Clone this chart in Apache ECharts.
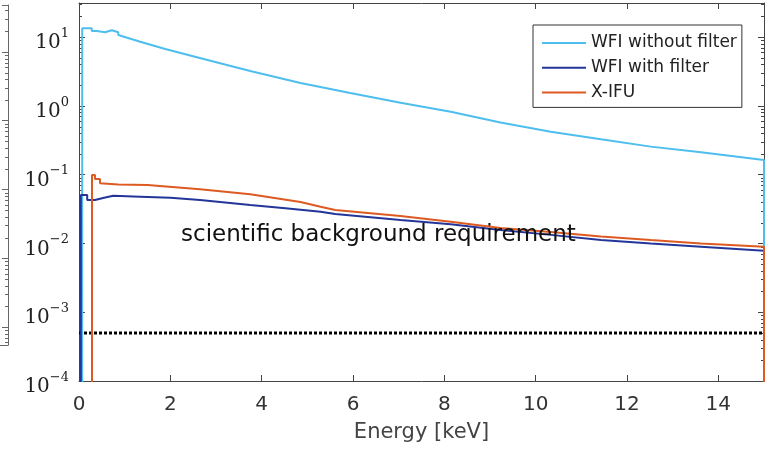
<!DOCTYPE html>
<html><head><meta charset="utf-8">
<script src="https://cdn.jsdelivr.net/npm/echarts@6/dist/echarts.min.js"></script>
<style>html,body{margin:0;padding:0;background:#fff}#c{width:776px;height:451px}</style>
</head><body><div id="c"></div>
<script>
// ---- data ----
const xTickValues = [0, 2, 4, 6, 8, 10, 12, 14];
const yDecadeExponents = [-4, -3, -2, -1, 0, 1];
const minorMantissas = [2, 3, 4, 5, 6, 7, 8, 9];
const legendNames = ['WFI without filter', 'WFI with filter', 'X-IFU'];
const annotationText = 'scientific background requirement';

// 1e-6 marks a drop to below the axis (vertical edges of the stair spectra)
const wfiNoFilterE = [0.07, 0.07, 0.28, 0.28, 0.39, 0.39, 0.57, 0.57, 0.72, 0.72, 0.86, 0.86, 1.34, 1.89, 2.54, 3.09, 3.75, 4.85, 5.94, 7.04, 8.14, 9.23, 10.33, 11.43, 12.52, 13.62, 15.0, 15.0];
const wfiNoFilterV = [1e-6, 13.4, 13.4, 12.2, 12.2, 11.7, 11.7, 12.5, 12.5, 11.7, 11.7, 10.7, 8.55, 6.7, 5.17, 4.15, 3.2, 2.14, 1.53, 1.11, 0.82, 0.57, 0.421, 0.326, 0.255, 0.211, 0.163, 1e-6];

const wfiFilterE = [0.04, 0.04, 0.18, 0.18, 0.35, 0.55, 0.75, 1.34, 2.0, 2.65, 3.75, 4.52, 5.29, 5.61, 7.04, 8.14, 9.23, 10.33, 11.43, 12.52, 13.62, 15.0, 15.0];
const wfiFilterV = [1e-6, 0.0504, 0.0504, 0.0428, 0.0428, 0.046, 0.0493, 0.0477, 0.0461, 0.0428, 0.0361, 0.0324, 0.0289, 0.0267, 0.0219, 0.019, 0.0157, 0.0133, 0.0112, 0.0100, 0.00896, 0.00784, 1e-6];

const xifuE = [0.285, 0.285, 0.35, 0.35, 0.46, 0.46, 0.86, 1.5, 2.65, 3.75, 4.85, 5.29, 5.61, 7.04, 8.14, 9.23, 10.33, 11.43, 12.52, 13.62, 15.0, 15.0];
const xifuV = [1e-6, 0.0986, 0.0986, 0.0863, 0.0863, 0.0748, 0.0718, 0.0706, 0.0611, 0.0518, 0.040, 0.0341, 0.0305, 0.025, 0.0206, 0.01675, 0.01466, 0.0126, 0.0112, 0.0100, 0.00896, 1e-6];

const requirementE = [0, 15];
const requirementV = [5e-4, 5e-4];

// ---- helpers ----
const pairs = (e, v) => e.map((x, i) => [x, v[i]]);
const yMin = 1e-4, yMaxExp = 1.494, yMax = Math.pow(10, yMaxExp);
const sideMin = Math.pow(10, -4.261), sideMax = Math.pow(10, 0.681);
function minorTickValues(lo, hi) {
  const out = [];
  for (let k = -6; k <= 2; k++) {
    minorMantissas.forEach(m => {
      const v = m * Math.pow(10, k);
      if (v > lo && v < hi) out.push(v);
    });
  }
  return out;
}
const axisColor = '#444';
const supMinus = e => (e < 0 ? '\u2212' + (-e) : String(e));

const chart = echarts.init(document.getElementById('c'), null, {renderer: 'canvas'});
const tickCommon = {show: true, inside: true, length: 6, lineStyle: {color: axisColor, width: 1}};

function tickRenderer(xLeft, xRight, len, color, both) {
  return function (params, api) {
    const v = api.value(1);
    const l = api.coord([xLeft, v]);
    const r = api.coord([xRight, v]);
    const y = Math.round(l[1]) + 0.5;
    const children = [];
    if (both) children.push({type: 'line', shape: {x1: l[0], y1: y, x2: l[0] + len, y2: y}, style: {stroke: color, lineWidth: 1}});
    children.push({type: 'line', shape: {x1: r[0] - len, y1: y, x2: r[0], y2: y}, style: {stroke: color, lineWidth: 1}});
    return {type: 'group', children: children};
  };
}

const option = {
  animation: false,
  backgroundColor: '#fff',
  grid: [
    {left: 79, right: 12, top: 3, bottom: 70, show: false},
    {left: 0, top: 5, width: 8, height: 340, show: false}
  ],
  xAxis: [
    {
      gridIndex: 0, type: 'value', min: 0, max: 15, interval: 2, position: 'bottom',
      axisLine: {show: true, onZero: false, lineStyle: {color: axisColor, width: 1}},
      axisTick: tickCommon,
      axisLabel: {margin: 14, color: '#333', fontFamily: 'DejaVu Sans', fontSize: 20,
        formatter: v => (xTickValues.indexOf(v) >= 0 ? String(v) : '')},
      splitLine: {show: false},
      name: 'Energy [keV]', nameLocation: 'middle', nameGap: 41,
      nameTextStyle: {color: '#444', fontFamily: 'DejaVu Sans', fontSize: 21}
    },
    {
      gridIndex: 0, type: 'value', min: 0, max: 15, interval: 2, position: 'top',
      axisLine: {show: true, onZero: false, lineStyle: {color: axisColor, width: 1}},
      axisTick: tickCommon, axisLabel: {show: false}, splitLine: {show: false}
    },
    {
      gridIndex: 1, type: 'value', min: 0, max: 1,
      axisLine: {show: true, onZero: false, lineStyle: {color: '#666', width: 1}},
      axisTick: {show: false}, axisLabel: {show: false}, splitLine: {show: false}
    }
  ],
  yAxis: [
    {
      gridIndex: 0, type: 'log', logBase: 10, min: yMin, max: yMax, position: 'left',
      axisLine: {show: true, onZero: false, lineStyle: {color: axisColor, width: 1}},
      axisTick: tickCommon, splitLine: {show: false},
      axisLabel: {
        margin: 10, padding: [6, 0, 0, 0],
        formatter: v => {
          const l = Math.log10(v), e = Math.round(l);
          if (Math.abs(l - e) > 1e-6 || yDecadeExponents.indexOf(e) < 0) return '';
          return '{b|10}{s|' + supMinus(e) + '}';
        },
        rich: {
          b: {fontFamily: 'DejaVu Serif', fontSize: 20, color: '#222', lineHeight: 26, verticalAlign: 'bottom'},
          s: {fontFamily: 'DejaVu Serif', fontSize: 13, color: '#222', lineHeight: 12, verticalAlign: 'top'}
        }
      }
    },
    {
      gridIndex: 0, type: 'log', logBase: 10, min: yMin, max: yMax, position: 'right',
      axisLine: {show: true, onZero: false, lineStyle: {color: axisColor, width: 1}},
      axisTick: tickCommon, axisLabel: {show: false}, splitLine: {show: false}
    },
    {
      gridIndex: 1, type: 'log', logBase: 10, min: sideMin, max: sideMax, position: 'right',
      axisLine: {show: true, onZero: false, lineStyle: {color: '#666', width: 1}},
      axisLabel: {show: false}, splitLine: {show: false},
      axisTick: {show: true, inside: true, length: 6, lineStyle: {color: '#666'}}
    }
  ],
  legend: {
    data: legendNames, orient: 'vertical', left: 533, top: 25, icon: 'rect',
    itemWidth: 44, itemHeight: 2, itemGap: 4.7, padding: [8, 5, 5, 9],
    borderColor: '#333', borderWidth: 1, backgroundColor: '#fff', selectedMode: false,
    textStyle: {fontFamily: 'DejaVu Sans', fontSize: 17, color: '#222', lineHeight: 20}
  },
  graphic: [{
    type: 'text', left: 181, top: 224, z: 100,
    style: {text: annotationText, fontFamily: 'DejaVu Sans', fontSize: 23, fill: '#111'}
  }],
  series: [
    {
      name: 'minor ticks', type: 'custom', xAxisIndex: 0, yAxisIndex: 0, silent: true, clip: false,
      data: minorTickValues(yMin, yMax).map(v => [0, v]),
      renderItem: tickRenderer(0, 15, 3, axisColor, true)
    },
    {
      name: 'side minor ticks', type: 'custom', xAxisIndex: 2, yAxisIndex: 2, silent: true, clip: false,
      data: minorTickValues(sideMin, sideMax).map(v => [1, v]),
      renderItem: tickRenderer(0, 1, 3, '#666', false)
    },
    {
      name: 'requirement', type: 'line', xAxisIndex: 0, yAxisIndex: 0,
      data: pairs(requirementE, requirementV), symbol: 'none', silent: true,
      lineStyle: {color: '#000', width: 3, type: [3, 2]}
    },
    {
      name: legendNames[0], type: 'line', xAxisIndex: 0, yAxisIndex: 0,
      data: pairs(wfiNoFilterE, wfiNoFilterV), symbol: 'none', clip: true,
      color: '#4DBEEE', lineStyle: {color: '#4DBEEE', width: 2}
    },
    {
      name: legendNames[1], type: 'line', xAxisIndex: 0, yAxisIndex: 0,
      data: pairs(wfiFilterE, wfiFilterV), symbol: 'none', clip: true,
      color: '#24359A', lineStyle: {color: '#24359A', width: 2}
    },
    {
      name: legendNames[2], type: 'line', xAxisIndex: 0, yAxisIndex: 0,
      data: pairs(xifuE, xifuV), symbol: 'none', clip: true,
      color: '#DD5A22', lineStyle: {color: '#DD5A22', width: 2}
    }
  ]
};
chart.setOption(option);
</script>
</body></html>
